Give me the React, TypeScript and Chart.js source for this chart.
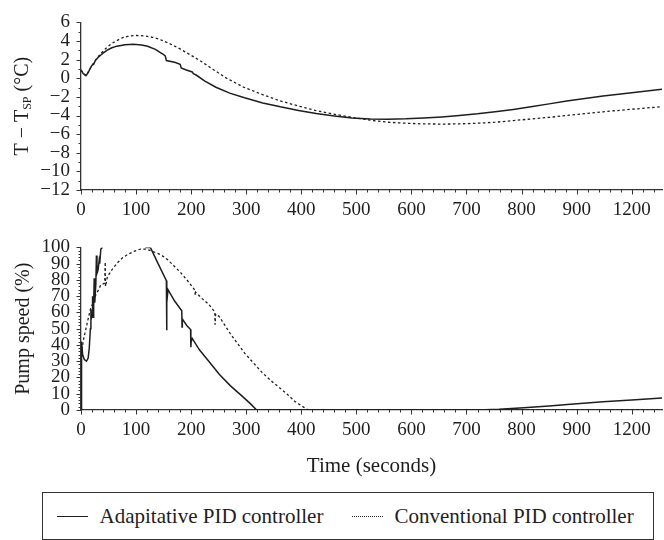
import React, { useEffect, useRef } from 'react';
import { Chart, registerables } from 'chart.js';

Chart.register(...registerables);

// ---------- axis ticks ----------
const X_MAX = 1055;
const X_TICK_VALUES = [0, 100, 200, 300, 400, 500, 600, 700, 800, 900, 1000];
const X_TICK_LABELS = ['0', '100', '200', '300', '400', '500', '600', '700', '800', '900', '1200'];
const X_MINOR_STEP = 20;

const TEMP_TICK_VALUES = [6, 4, 2, 0, -2, -4, -6, -8, -10, -12];
const TEMP_TICK_LABELS = ['6', '4', '2', '0', '−2', '−4', '−6', '−8', '−10', '−12'];
const TEMP_MINOR_STEP = 1;

const PUMP_TICK_VALUES = [0, 10, 20, 30, 40, 50, 60, 70, 80, 90, 100];
const PUMP_TICK_LABELS = ['0', '10', '20', '30', '40', '50', '60', '70', '80', '90', '100'];
const PUMP_MINOR_STEP = 2;

// ---------- series ----------
const SERIES_LABELS = ['Adapitative PID controller', 'Conventional PID controller'];

const TEMP_ADAPT_TIME = [0, 4, 9, 13, 17, 20, 23, 26, 29, 32, 36, 40, 47, 55, 65, 80, 95, 110, 121, 135, 150, 153, 155, 170, 180, 182, 190, 202, 204, 209, 225, 245, 270, 297, 330, 362, 395, 427, 460, 492, 525, 557, 590, 622, 655, 687, 720, 752, 785, 817, 850, 882, 915, 948, 1000, 1055];
const TEMP_ADAPT_VALUE = [0.9, 0.5, 0.28, 0.6, 1.1, 1.4, 1.5, 1.9, 2.1, 2.3, 2.5, 2.7, 3.0, 3.25, 3.45, 3.6, 3.64, 3.58, 3.43, 3.1, 2.55, 2.4, 1.9, 1.72, 1.5, 1.1, 0.92, 0.68, 0.5, 0.35, -0.3, -0.96, -1.6, -2.1, -2.65, -3.07, -3.45, -3.78, -4.05, -4.27, -4.38, -4.4, -4.36, -4.27, -4.15, -4.0, -3.82, -3.6, -3.35, -3.07, -2.75, -2.44, -2.17, -1.9, -1.55, -1.17];

const TEMP_CONV_TIME = [0, 4, 9, 14, 20, 27, 35, 45, 55, 62, 75, 88, 101, 115, 130, 140, 160, 180, 199, 220, 240, 264, 295, 329, 360, 394, 425, 459, 492, 525, 557, 590, 622, 655, 687, 720, 752, 785, 817, 850, 882, 915, 948, 1000, 1055];
const TEMP_CONV_VALUE = [0.9, 0.5, 0.3, 0.75, 1.4, 2.0, 2.6, 3.2, 3.7, 3.95, 4.35, 4.55, 4.6, 4.55, 4.4, 4.24, 3.75, 3.15, 2.5, 1.75, 0.95, 0.02, -0.95, -1.74, -2.4, -2.97, -3.45, -3.85, -4.2, -4.5, -4.72, -4.83, -4.9, -4.92, -4.9, -4.83, -4.72, -4.55, -4.37, -4.2, -4.0, -3.8, -3.6, -3.33, -3.05];

const PUMP_ADAPT_TIME = [0, 1, 3, 6, 10, 13, 15, 17, 18, 18.5, 20, 21, 22, 23, 24, 25, 27, 28, 29, 31, 33, 34, 36, 39, 40, 116, 117, 126, 140, 155, 155.5, 156, 158, 170, 183, 183.5, 184, 192, 199, 199.5, 200, 202, 215, 232, 251, 271, 290, 306, 319, 400, 550, 720, 759, 804, 850, 883, 948, 1000, 1055];
const PUMP_ADAPT_VALUE = [0, 42, 34, 31, 30, 32, 38, 50, 62, 56, 58, 70, 57, 64, 81, 66, 78, 95, 84, 86, 92, 90, 99, 100, null, null, 100, 100, 90, 79.6, 49, 66, 74, 67, 61, 51, 56, 52, 49.5, 38.6, 42, 44, 37, 30, 22, 15, 9.3, 4.4, 0, 0, 0, 0, 0.4, 1.4, 2.5, 3.4, 5, 6.2, 7.4];

const PUMP_CONV_TIME = [0, 2, 5, 11, 17, 22, 27, 32, 36, 43, 44, 44.5, 48, 57, 66, 75, 84, 96, 108, 118, 130, 145, 157, 169, 181, 193, 205, 207, 207.5, 208, 220, 232, 243, 243.5, 244.5, 251, 271, 297, 313, 329, 345, 362, 375, 388, 400, 413, 600, 1055];
const PUMP_CONV_VALUE = [42, 38, 44, 53, 62, 66, 71, 74, 77, 78, 91, 76, 82, 86.6, 90.5, 93.5, 95.5, 97.5, 99, 99, 97.5, 95.5, 92.5, 88.6, 84.5, 79.7, 74.5, 73, 70.5, 72.5, 68.5, 65, 60.3, 52.5, 59, 57.5, 47, 35, 29, 23, 18, 13.3, 9.5, 5.4, 2.6, 0, 0, 0];

// ---------- styling ----------
const FONT_FAMILY = "'Liberation Serif', 'DejaVu Serif', serif";
const INK = '#1e1e1e';
const AXIS = '#333333';

const zip = (xs: number[], ys: (number | null)[]) => xs.map((x, i) => ({ x, y: ys[i] }));

const tickMarks = {
  id: 'tickMarks',
  afterDraw(chart: any, _args: any, opts: any) {
    const { ctx } = chart;
    const xs = chart.scales.x;
    const ys = chart.scales.y;
    ctx.save();
    ctx.strokeStyle = AXIS;
    ctx.lineWidth = 1;
    const xAxisY = chart.chartArea.bottom;
    const yAxisX = chart.chartArea.left;
    const drawX = (v: number, len: number) => {
      const p = Math.round(xs.getPixelForValue(v)) + 0.5;
      ctx.beginPath();
      ctx.moveTo(p, xAxisY);
      ctx.lineTo(p, xAxisY + len);
      ctx.stroke();
    };
    const drawY = (v: number, len: number) => {
      const p = Math.round(ys.getPixelForValue(v)) + 0.5;
      ctx.beginPath();
      ctx.moveTo(yAxisX, p);
      ctx.lineTo(yAxisX - len, p);
      ctx.stroke();
    };
    for (let v = xs.min; v <= xs.max + 1e-9; v += opts.xMinor) drawX(v, 2.5);
    opts.xMajor.forEach((v: number) => drawX(v, 4.5));
    for (let v = ys.min; v <= ys.max + 1e-9; v += opts.yMinor) drawY(v, 2.5);
    opts.yMajor.forEach((v: number) => drawY(v, 4.5));
    ctx.restore();
  },
};

const yTitle = {
  id: 'yTitle',
  afterDraw(chart: any, _args: any, opts: any) {
    const { ctx, chartArea } = chart;
    const parts = opts.parts as { text: string; sub?: boolean }[];
    const cy = (chartArea.top + chartArea.bottom) / 2;
    ctx.save();
    ctx.fillStyle = INK;
    ctx.textBaseline = 'middle';
    ctx.textAlign = 'left';
    const fonts = parts.map((p) => `${p.sub ? opts.subSize : opts.size}px ${FONT_FAMILY}`);
    const widths = parts.map((p, i) => {
      ctx.font = fonts[i];
      return ctx.measureText(p.text).width;
    });
    const total = widths.reduce((a, b) => a + b, 0);
    ctx.translate(opts.x, cy);
    ctx.rotate(-Math.PI / 2);
    let x = -total / 2;
    parts.forEach((p, i) => {
      ctx.font = fonts[i];
      ctx.fillText(p.text, x, p.sub ? opts.subShift : 0);
      x += widths[i];
    });
    ctx.restore();
  },
};

function buildConfig(kind: 'temp' | 'pump'): any {
  const isTemp = kind === 'temp';
  const yValues = isTemp ? TEMP_TICK_VALUES : PUMP_TICK_VALUES;
  const yLabels = isTemp ? TEMP_TICK_LABELS : PUMP_TICK_LABELS;
  const tickFont = { family: FONT_FAMILY, size: 19 };
  return {
    type: 'line',
    data: {
      datasets: [
        {
          label: SERIES_LABELS[0],
          data: isTemp ? zip(TEMP_ADAPT_TIME, TEMP_ADAPT_VALUE) : zip(PUMP_ADAPT_TIME, PUMP_ADAPT_VALUE),
          borderColor: INK,
          borderWidth: 1.5,
          pointRadius: 0,
          tension: 0,
          spanGaps: false,
        },
        {
          label: SERIES_LABELS[1],
          data: isTemp ? zip(TEMP_CONV_TIME, TEMP_CONV_VALUE) : zip(PUMP_CONV_TIME, PUMP_CONV_VALUE),
          borderColor: INK,
          borderWidth: 1.3,
          borderDash: [2.5, 2.5],
          pointRadius: 0,
          tension: 0,
        },
      ],
    },
    options: {
      animation: false,
      responsive: false,
      maintainAspectRatio: false,
      events: [],
      layout: { padding: { top: isTemp ? 21 : 16, right: 2, left: 0, bottom: 0 } },
      plugins: {
        legend: { display: false },
        tooltip: { enabled: false },
        tickMarks: {
          xMajor: X_TICK_VALUES,
          xMinor: X_MINOR_STEP,
          yMajor: yValues,
          yMinor: isTemp ? TEMP_MINOR_STEP : PUMP_MINOR_STEP,
        },
        yTitle: isTemp
          ? {
              x: 23,
              size: 20,
              subSize: 12,
              subShift: 5,
              parts: [{ text: 'T − T' }, { text: 'SP', sub: true }, { text: ' (°C)' }],
            }
          : { x: 24, size: 20, subSize: 12, subShift: 5, parts: [{ text: 'Pump speed (%)' }] },
      },
      scales: {
        x: {
          type: 'linear',
          min: 0,
          max: X_MAX,
          afterBuildTicks: (s: any) => {
            s.ticks = X_TICK_VALUES.map((v) => ({ value: v }));
          },
          afterFit: (s: any) => {
            s.height = isTemp ? 35 : 75;
          },
          ticks: {
            callback: (v: number) => X_TICK_LABELS[X_TICK_VALUES.indexOf(v)],
            font: tickFont,
            color: INK,
            padding: 9,
            maxRotation: 0,
            autoSkip: false,
          },
          grid: { display: false, drawTicks: false },
          border: { display: true, color: AXIS, width: 1.3 },
          title: isTemp
            ? { display: false }
            : {
                display: true,
                text: 'Time (seconds)',
                color: INK,
                font: { family: FONT_FAMILY, size: 21 },
                padding: { top: 0, bottom: 6 },
              },
        },
        y: {
          type: 'linear',
          min: isTemp ? -12 : 0,
          max: isTemp ? 6 : 100,
          afterBuildTicks: (s: any) => {
            s.ticks = yValues.map((v) => ({ value: v }));
          },
          afterFit: (s: any) => {
            s.width = 81;
          },
          ticks: {
            callback: (v: number) => yLabels[yValues.indexOf(v)],
            font: tickFont,
            color: INK,
            padding: 11,
            autoSkip: false,
          },
          grid: { display: false, drawTicks: false },
          border: { display: true, color: AXIS, width: 1.3 },
        },
      },
    },
    plugins: [tickMarks, yTitle],
  };
}

function ChartCanvas({ kind, top, height }: { kind: 'temp' | 'pump'; top: number; height: number }) {
  const ref = useRef<HTMLCanvasElement | null>(null);
  useEffect(() => {
    if (!ref.current) return;
    const chart = new Chart(ref.current, buildConfig(kind));
    return () => chart.destroy();
  }, [kind]);
  return (
    <canvas
      ref={ref}
      width={664}
      height={height}
      style={{ position: 'absolute', left: 0, top, width: 664, height, display: 'block' }}
    />
  );
}

const legendText: React.CSSProperties = {
  position: 'absolute',
  top: 11,
  fontFamily: FONT_FAMILY,
  fontSize: 21,
  lineHeight: '24px',
  color: INK,
  whiteSpace: 'nowrap',
};

export default function App() {
  return (
    <div
      style={{
        position: 'absolute',
        left: 0,
        top: 0,
        width: 664,
        height: 540,
        background: '#ffffff',
        overflow: 'hidden',
      }}
    >
      <ChartCanvas kind="temp" top={0} height={225} />
      <ChartCanvas kind="pump" top={225} height={260} />
      <div
        style={{
          position: 'absolute',
          left: 42,
          top: 492,
          width: 612,
          height: 48,
          boxSizing: 'border-box',
          border: `1.5px solid ${AXIS}`,
        }}
      >
        <div style={{ position: 'absolute', left: 13.5, top: 23, width: 31, borderTop: `1.5px solid ${INK}` }} />
        <span style={{ ...legendText, left: 56.5 }}>{SERIES_LABELS[0]}</span>
        <div style={{ position: 'absolute', left: 308.5, top: 23, width: 31, borderTop: `1.5px dotted ${INK}` }} />
        <span style={{ ...legendText, left: 351.5 }}>{SERIES_LABELS[1]}</span>
      </div>
    </div>
  );
}
